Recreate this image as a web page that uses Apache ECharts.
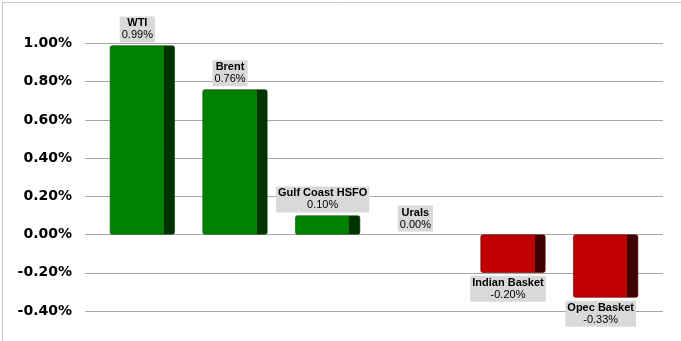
<!DOCTYPE html>
<html>
<head>
<meta charset="utf-8">
<script src="https://cdn.jsdelivr.net/npm/echarts@6/dist/echarts.min.js"></script>
<style>
html,body{margin:0;padding:0;background:#fff;}
#chart{width:681px;height:341px;}
</style>
</head>
<body>
<div id="chart"></div>
<script>
var categories = ['WTI', 'Brent', 'Gulf Coast HSFO', 'Urals', 'Indian Basket', 'Opec Basket'];
var values = [0.99, 0.76, 0.10, 0.00, -0.20, -0.33];
var yMin = -0.4, yMax = 1.0, yStep = 0.2;

function face(front, side) {
  return new echarts.graphic.LinearGradient(0, 0, 1, 0, [
    {offset: 0, color: front}, {offset: 0.835, color: front},
    {offset: 0.835, color: side}, {offset: 1, color: side}
  ]);
}

var data = values.map(function (v, i) {
  var pos = v >= 0;
  var zero = v === 0;
  return {
    value: v,
    name: categories[i],
    itemStyle: {
      color: zero ? 'rgba(0,0,0,0)' : (pos ? face('#008000', '#003300') : face('#c00000', '#3f0000')),
      borderColor: pos ? '#004d00' : '#5a0000',
      borderWidth: zero ? 0 : 0.6,
      borderRadius: 2
    },
    label: {position: pos ? 'top' : 'bottom'}
  };
});

var chart = echarts.init(document.getElementById('chart'), null, {renderer: 'canvas'});
chart.setOption({
  animation: false,
  backgroundColor: '#fff',
  graphic: [{
    type: 'rect', left: 0, top: 0, z: -10,
    shape: {x: 0.5, y: 0.5, width: 680, height: 340},
    style: {fill: 'none', stroke: '#c8c8c8', lineWidth: 1}
  }],
  grid: [
    {left: 85, right: 18, top: 43.5, bottom: 30},
    {left: 96, right: 29, top: 43.5, bottom: 30}
  ],
  xAxis: [
    {type: 'value', gridIndex: 0, show: false, min: 0, max: 1},
    {type: 'category', gridIndex: 1, data: categories, show: false}
  ],
  yAxis: [
    {
      type: 'value', gridIndex: 0, min: yMin, max: yMax, interval: yStep,
      axisLine: {show: false}, axisTick: {show: false},
      axisLabel: {
        margin: 13,
        fontFamily: 'DejaVu Sans', fontWeight: 'bold', fontSize: 14, color: '#000',
        formatter: function (v) { return v.toFixed(2) + '%'; }
      },
      splitLine: {lineStyle: {color: '#a6a6a6', width: 1}}
    },
    {
      type: 'value', gridIndex: 1, min: yMin, max: yMax, interval: yStep, show: false,
      splitLine: {show: false}
    }
  ],
  series: [{
    type: 'bar',
    xAxisIndex: 1, yAxisIndex: 1,
    barWidth: 65,
    data: data,
    label: {
      show: true,
      distance: 3,
      offset: [-5, 0],
      backgroundColor: '#d9d9d9',
      padding: [1, 2, 1, 2],
      align: 'center',
      formatter: function (p) {
        return '{n|' + p.name + '}\n{v|' + p.value.toFixed(2) + '%}';
      },
      rich: {
        n: {fontFamily: 'Liberation Sans', fontSize: 11, fontWeight: 'bold', color: '#000', lineHeight: 12, align: 'center'},
        v: {fontFamily: 'Liberation Sans', fontSize: 11, color: '#000', lineHeight: 12, align: 'center'}
      }
    }
  }]
});
</script>
</body>
</html>
